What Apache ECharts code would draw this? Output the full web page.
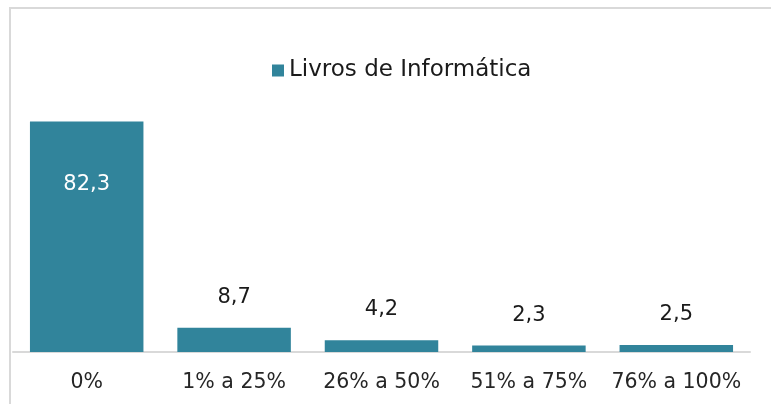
<!DOCTYPE html>
<html>
<head>
<meta charset="utf-8">
<script src="https://cdn.jsdelivr.net/npm/echarts@6/dist/echarts.min.js"></script>
<style>
  html, body { margin: 0; padding: 0; background: #fff; }
  #chart { width: 771px; height: 404px; }
</style>
</head>
<body>
<div id="chart"></div>
<script>
// categorias e valores (%)
const categories = ["0%", "1% a 25%", "26% a 50%", "51% a 75%", "76% a 100%"];
const values = [82.3, 8.7, 4.2, 2.3, 2.5];
const seriesName = "Livros de Informática";

const barColor = "#31849b";
const fontFamily = "'DejaVu Sans', sans-serif";

const chart = echarts.init(document.getElementById("chart"));

const option = {
  backgroundColor: "#fff",
  animation: false,
  // moldura cinza do gráfico
  graphic: [
    {
      type: "rect",
      z: -1,
      shape: { x: 10, y: 8, width: 800, height: 420 },
      style: { fill: "#fff", stroke: "#d9d9d9", lineWidth: 2 }
    }
  ],
  legend: {
    data: [seriesName],
    left: 267,
    top: 54,
    itemWidth: 12,
    itemHeight: 12,
    itemGap: 6,
    icon: "rect",
    textStyle: {
      color: "#1a1a1a",
      fontSize: 23,
      fontFamily: fontFamily
    }
  },
  grid: {
    left: 13,
    right: 21,
    top: 100,
    bottom: 52,
    containLabel: false
  },
  xAxis: {
    type: "category",
    data: categories,
    axisLine: { lineStyle: { color: "#d9d9d9", width: 2 } },
    axisTick: { show: false },
    axisLabel: {
      color: "#262626",
      fontSize: 20.5,
      fontFamily: fontFamily,
      margin: 20,
      interval: 0
    }
  },
  yAxis: {
    type: "value",
    min: 0,
    max: 90,
    show: false,
    splitLine: { show: false }
  },
  series: [
    {
      name: seriesName,
      type: "bar",
      barCategoryGap: "23%",
      data: values.map((v, i) => {
        if (i === 0) {
          return {
            value: v,
            label: {
              position: "insideTop",
              distance: 52,
              color: "#fff"
            }
          };
        }
        return v;
      }),
      itemStyle: { color: barColor },
      label: {
        show: true,
        position: "top",
        distance: 20,
        color: "#1a1a1a",
        fontSize: 21,
        fontFamily: fontFamily,
        formatter: (p) => String(p.value).replace(".", ",")
      }
    }
  ]
};

chart.setOption(option);
window.addEventListener("resize", () => chart.resize());
</script>
</body>
</html>
